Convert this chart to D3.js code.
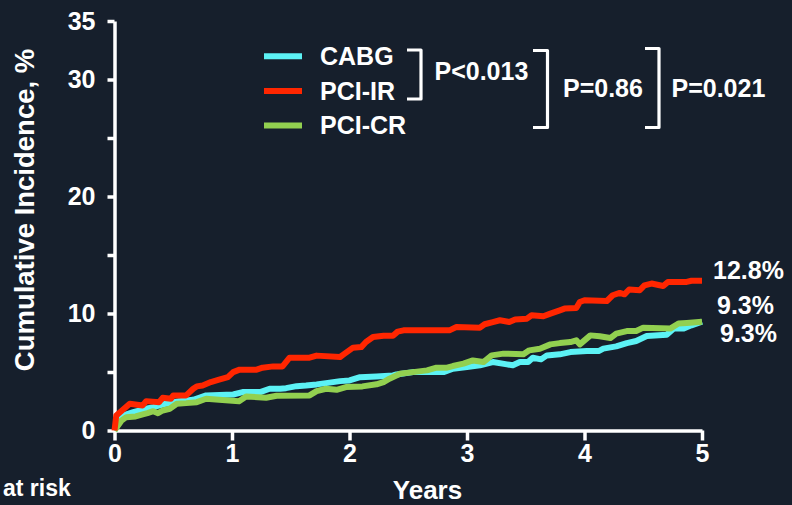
<!DOCTYPE html>
<html>
<head>
<meta charset="utf-8">
<script src="https://cdn.jsdelivr.net/npm/d3@7"></script>
<style>
  html, body { margin: 0; padding: 0; background: #161f2c; }
  svg { display: block; font-family: "Liberation Sans", Arial, sans-serif; font-weight: bold; }
</style>
</head>
<body>
<svg id="chart" width="792" height="505"></svg>
<script>
// Cumulative incidence (%) over follow-up years, per treatment group: [year, percent]
const cabg = [[0,0],[0.07,1.28],[0.16,1.57],[0.27,1.86],[0.33,1.99],[0.44,2.29],[0.55,2.51],[0.67,2.63],[0.72,2.8],[0.78,3.0],[1.01,3.08],[1.09,3.28],[1.24,3.28],[1.32,3.57],[1.41,3.57],[1.46,3.62],[1.55,3.79],[1.63,3.85],[1.72,3.94],[1.80,4.05],[1.92,4.22],[2.00,4.28],[2.09,4.56],[2.23,4.62],[2.37,4.71],[2.40,4.79],[2.54,4.99],[2.80,4.99],[2.88,5.28],[3.00,5.42],[3.11,5.57],[3.22,5.85],[3.34,5.65],[3.39,5.57],[3.45,5.85],[3.52,5.85],[3.56,6.22],[3.63,6.08],[3.68,6.42],[3.79,6.51],[3.88,6.7],[4.02,6.79],[4.12,6.79],[4.16,7.0],[4.27,7.19],[4.36,7.47],[4.44,7.65],[4.53,8.07],[4.70,8.19],[4.76,8.71],[4.84,8.71],[4.91,8.99],[5.0,9.3]];
const pciIR = [[0,0],[0.015,1.28],[0.13,2.29],[0.24,2.14],[0.27,2.51],[0.38,2.42],[0.41,2.8],[0.48,2.71],[0.50,3.0],[0.61,3.0],[0.67,3.57],[0.70,3.77],[0.75,3.85],[0.82,4.14],[0.89,4.34],[0.965,4.56],[1.01,4.99],[1.065,5.2],[1.21,5.2],[1.26,5.37],[1.35,5.48],[1.43,5.48],[1.49,6.22],[1.66,6.22],[1.72,6.4],[1.92,6.28],[1.95,6.5],[2.03,7.08],[2.10,7.13],[2.14,7.56],[2.20,7.99],[2.29,8.1],[2.37,8.1],[2.41,8.45],[2.46,8.56],[2.85,8.56],[2.91,8.84],[3.11,8.79],[3.15,9.08],[3.22,9.27],[3.28,9.42],[3.36,9.27],[3.41,9.48],[3.51,9.56],[3.55,9.85],[3.65,9.76],[3.71,9.99],[3.79,10.27],[3.83,10.42],[3.93,10.47],[3.96,10.98],[4.00,11.13],[4.19,11.07],[4.24,11.56],[4.30,11.76],[4.34,11.64],[4.38,12.05],[4.47,11.99],[4.51,12.41],[4.57,12.56],[4.67,12.35],[4.71,12.7],[4.87,12.7],[4.91,12.8],[5.0,12.8]];
const pciCR = [[0,0],[0.06,0.86],[0.10,1.14],[0.18,1.2],[0.24,1.37],[0.28,1.48],[0.33,1.65],[0.37,1.48],[0.41,1.71],[0.47,1.86],[0.53,2.29],[0.61,2.34],[0.70,2.42],[0.78,2.71],[0.89,2.63],[1.06,2.51],[1.12,2.91],[1.29,2.8],[1.38,2.97],[1.66,3.0],[1.72,3.36],[1.80,3.57],[1.89,3.48],[1.97,3.71],[2.11,3.77],[2.23,3.95],[2.29,4.14],[2.34,4.43],[2.43,4.85],[2.54,4.99],[2.66,5.14],[2.74,5.37],[2.83,5.37],[2.88,5.51],[2.97,5.71],[3.05,5.99],[3.14,5.85],[3.21,6.42],[3.31,6.57],[3.48,6.51],[3.53,6.85],[3.62,6.99],[3.71,7.36],[3.79,7.47],[3.88,7.56],[3.93,7.71],[3.96,7.36],[4.05,8.13],[4.13,8.05],[4.22,7.9],[4.27,8.28],[4.36,8.5],[4.44,8.5],[4.50,8.79],[4.73,8.71],[4.80,9.14],[4.87,9.19],[5.0,9.3]];

const seriesNames = ["CABG", "PCI-IR", "PCI-CR"];
const seriesColors = ["#5cf2f5", "#ff2600", "#92d050"];
const endLabels = ["9.3%", "12.8%", "9.3%"];
const endValues = [9.3, 12.8, 9.3];

const xTicks = [0, 1, 2, 3, 4, 5];
const yTicks = [0, 5, 10, 15, 20, 25, 30, 35];
const yTickLabels = [0, 10, 20, 30, 35];

// P-values for pairwise comparisons
const pLabels = ["P<0.013", "P=0.86", "P=0.021"];

const svg = d3.select("#chart");
const x = d3.scaleLinear().domain([0, 5]).range([114.5, 702]);
const y = d3.scaleLinear().domain([0, 35]).range([430.5, 21]);

// Axes
const yAxis = d3.axisLeft(y).tickValues(yTicks).tickSize(7).tickSizeOuter(0).tickPadding(12)
  .tickFormat(d => yTickLabels.includes(d) ? d : "");
const xAxis = d3.axisBottom(x).tickValues(xTicks).tickSize(10).tickSizeOuter(0).tickPadding(4)
  .tickFormat(d3.format("d"));

const gy = svg.append("g").attr("transform", `translate(${x(0)},0)`).call(yAxis);
const gx = svg.append("g").attr("transform", `translate(0,${y(0)})`).call(xAxis);
[gx, gy].forEach(g => {
  g.select(".domain").attr("stroke", "#fff").attr("stroke-width", 3.5);
  g.selectAll(".tick line").attr("stroke", "#fff").attr("stroke-width", 3.5);
  g.selectAll(".tick text").attr("fill", "#fff").style("font-size", "25px")
    .style("font-family", "'Liberation Sans', Arial, sans-serif").style("font-weight", "bold");
});
gy.selectAll(".tick text").attr("dy", "0.33em");

// Series lines
const line = d3.line().x(d => x(d[0])).y(d => y(d[1]));
const seriesData = [cabg, pciCR, pciIR];
const seriesOrder = [0, 2, 1];
seriesOrder.forEach((si, k) => {
  svg.append("path")
    .datum(seriesData[k])
    .attr("d", line)
    .attr("fill", "none")
    .attr("stroke", seriesColors[si])
    .attr("stroke-width", 6)
    .attr("stroke-linejoin", "round");
});

// End-of-follow-up values
const endOffsets = [20, -2, -8];
const endX = [720, 713, 717];
endLabels.forEach((t, i) => {
  svg.append("text")
    .attr("x", endX[i])
    .attr("y", y(endValues[i]) + endOffsets[i])
    .attr("fill", "#fff")
    .style("font-size", "25px")
    .text(t);
});

// Legend
seriesNames.forEach((name, i) => {
  const cy = 56.3 + i * 34.6;
  svg.append("line")
    .attr("x1", 264).attr("x2", 302).attr("y1", cy).attr("y2", cy)
    .attr("stroke", seriesColors[i]).attr("stroke-width", 6);
  svg.append("text")
    .attr("x", 320).attr("y", cy + 8.8)
    .attr("fill", "#fff").style("font-size", "25px")
    .text(name);
});

// Brackets grouping the compared series
const brackets = [
  { x0: 407, x1: 421, y0: 50, y1: 99 },
  { x0: 533, x1: 547.5, y0: 50.5, y1: 127.5 },
  { x0: 645, x1: 659, y0: 48.5, y1: 127.5 }
];
brackets.forEach(b => {
  svg.append("path")
    .attr("d", `M${b.x0},${b.y0}H${b.x1}V${b.y1}H${b.x0}`)
    .attr("fill", "none").attr("stroke", "#fff").attr("stroke-width", 3.2)
    .attr("stroke-linejoin", "round");
});
const pPos = [[434.5, 80], [563, 96.7], [671.5, 96.7]];
pLabels.forEach((t, i) => {
  svg.append("text")
    .attr("x", pPos[i][0]).attr("y", pPos[i][1])
    .attr("fill", "#fff").style("font-size", "25px")
    .text(t);
});

// Axis titles
svg.append("text")
  .attr("transform", "translate(33.5,210) rotate(-90)")
  .attr("text-anchor", "middle")
  .attr("fill", "#fff").style("font-size", "27.5px")
  .text("Cumulative Incidence, %");

svg.append("text")
  .attr("x", 427.5).attr("y", 499)
  .attr("text-anchor", "middle")
  .attr("fill", "#fff").style("font-size", "26px")
  .text("Years");

svg.append("text")
  .attr("x", 3).attr("y", 496)
  .attr("fill", "#fff").style("font-size", "23px")
  .text("at risk");
</script>
</body>
</html>
